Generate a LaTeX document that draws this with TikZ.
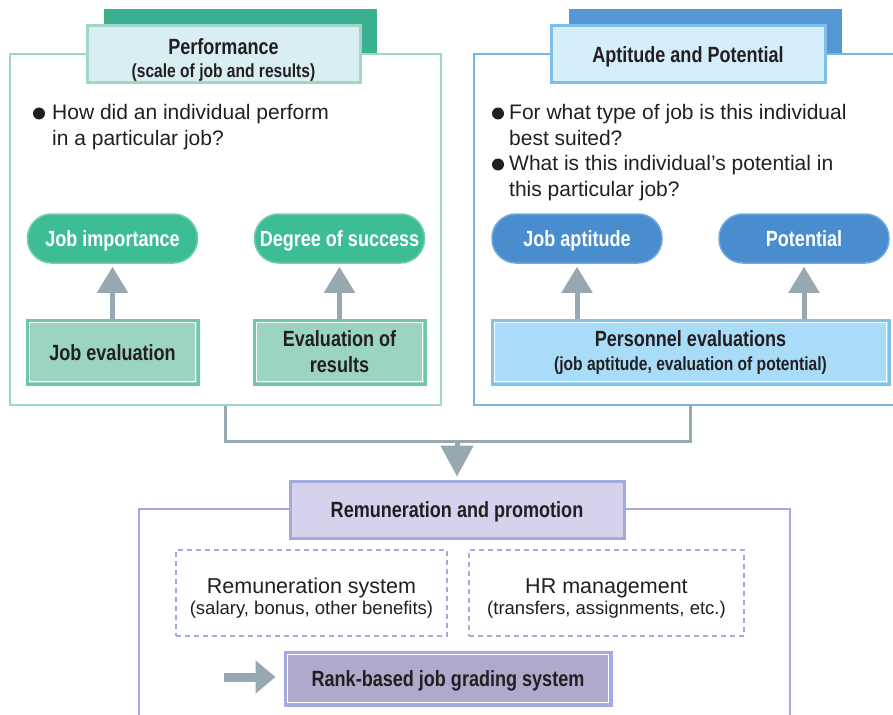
\documentclass[tikz,border=0pt]{standalone}
\usepackage{fontspec}
\setmainfont{Liberation Sans}
\newfontfamily\cnd{Liberation Sans}[FakeStretch=0.82]
\usetikzlibrary{arrows.meta}
\definecolor{tealfr}{HTML}{9ED7CA}
\definecolor{greentab}{HTML}{3AB08E}
\definecolor{hdrL}{HTML}{D8EEF0}
\definecolor{ovG}{HTML}{3DBD95}
\definecolor{ovGb}{HTML}{74CDB0}
\definecolor{boxG}{HTML}{9BD4BF}
\definecolor{boxGb}{HTML}{6FC7A9}
\definecolor{arrgray}{HTML}{97A8B1}
\definecolor{blueFr}{HTML}{76B6E6}
\definecolor{blueTab}{HTML}{5497D2}
\definecolor{hdrR}{HTML}{D5EEFB}
\definecolor{hdrRb}{HTML}{80BEEA}
\definecolor{ovB}{HTML}{4A8DCF}
\definecolor{ovBb}{HTML}{6FA8DD}
\definecolor{boxB}{HTML}{A8DCF8}
\definecolor{boxBb}{HTML}{80C2ED}
\definecolor{lav}{HTML}{A3AADD}
\definecolor{hdrP}{HTML}{D4D2EC}
\definecolor{rankc}{HTML}{B0A9CC}
\definecolor{txt}{HTML}{231F20}
\begin{document}
\begin{tikzpicture}[x=1pt,y=-1pt,
  frm/.style={draw=#1, line width=2.5pt, rectangle, inner sep=0pt},
  hdrbox/.style={rectangle, line width=3pt, inner sep=0pt, align=center, text=txt,
     font=\cnd\bfseries\fontsize{22}{24}\selectfont},
  oneline/.style={text height=16pt, text depth=0pt},
  oval/.style={rectangle, rounded corners=24pt, line width=1.5pt, minimum width=170pt,
     minimum height=49pt, inner sep=0pt, text=white, oneline, font=\cnd\bfseries\fontsize{22}{24}\selectfont},
  dbox/.style={rectangle, line width=3pt, inner sep=0pt, align=center, text=txt,
     font=\cnd\bfseries\fontsize{22}{26}\selectfont},
  innerw/.style={draw=white, line width=1.2pt},
  garrow/.style={draw=arrgray, line width=5pt, -{Triangle[width=30pt,length=26pt]}, shorten >=3pt},
  conn/.style={draw=arrgray, line width=3pt},
  bul/.style={anchor=base west, text=txt, font=\fontsize{21}{26}\selectfont, inner sep=0pt},
  dashbox/.style={rectangle, draw=lav, line width=2pt, dash pattern=on 5pt off 4pt,
     inner sep=0pt, align=center, text=txt}
]
\clip (0,0) rectangle (893,714);
\fill[white] (0,0) rectangle (893,714);

% ---------- left panel ----------
\fill[greentab] (104,9) rectangle (377,54);
\node[frm=tealfr, minimum width=431pt, minimum height=351pt] (lf) at (225.5,229.5) {};
\node[hdrbox, draw=tealfr, fill=hdrL, minimum width=273pt, minimum height=57pt] (lh) at (223.5,54.5)
  {\rule{0pt}{26pt}Performance\\[-1pt]{\fontsize{19}{22}\selectfont(scale of job and results)}};
\fill[txt] (39,113.5) circle (6);
\node[bul] (lb1) at (52,120) {How did an individual perform};
\node[bul] (lb2) at (52,146) {in a particular job?};

\node[oval, fill=ovG, draw=ovGb] (jimp) at (112.5,238.5) {Job importance};
\node[oval, fill=ovG, draw=ovGb] (dsucc) at (339.5,238.5) {Degree of success};
\node[dbox, oneline, fill=boxG, draw=boxGb, minimum width=171pt, minimum height=64pt] (jeval) at (112.5,352) {Job evaluation};
\node[dbox, fill=boxG, draw=boxGb, minimum width=171pt, minimum height=64pt] (reval) at (339.5,352) {Evaluation of\\results};
\draw[innerw] ([shift={(4,4)}]jeval.north west) rectangle ([shift={(-4,-4)}]jeval.south east);
\draw[innerw] ([shift={(4,4)}]reval.north west) rectangle ([shift={(-4,-4)}]reval.south east);
\draw[garrow] (jeval.north) -- (jimp.south);
\draw[garrow] (reval.north) -- (dsucc.south);

% ---------- right panel ----------
\fill[blueTab] (569,9) rectangle (842,54);
\node[frm=blueFr, minimum width=432pt, minimum height=351pt] (rf) at (690,229.5) {};
\node[hdrbox, oneline, draw=hdrRb, fill=hdrR, minimum width=274pt, minimum height=57pt] (rh) at (688,54.5)
  {Aptitude and Potential};
\fill[txt] (498,113.5) circle (6);
\fill[txt] (498,164.5) circle (6);
\node[bul] (rb1) at (509,120) {For what type of job is this individual};
\node[bul] (rb2) at (509,146) {best suited?};
\node[bul] (rb3) at (509,171) {What is this individual’s potential in};
\node[bul] (rb4) at (509,196) {this particular job?};

\node[oval, fill=ovB, draw=ovBb] (japt) at (577,238.5) {Job aptitude};
\node[oval, fill=ovB, draw=ovBb] (pot) at (804,238.5) {Potential};
\node[dbox, fill=boxB, draw=boxBb, minimum width=397pt, minimum height=64pt] (pers) at (690.5,352)
  {Personnel evaluations\\[-2pt]{\fontsize{19}{22}\selectfont(job aptitude, evaluation of potential)}};
\draw[innerw] ([shift={(4,4)}]pers.north west) rectangle ([shift={(-4,-4)}]pers.south east);
\draw[garrow] (japt |- pers.north) -- (japt.south);
\draw[garrow] (pot |- pers.north) -- (pot.south);

% ---------- bottom panel ----------
\node[frm=lav, minimum width=651pt, minimum height=230pt] (bf) at (464.5,624) {};
\node[hdrbox, oneline, draw=lav, fill=hdrP, minimum width=334pt, minimum height=57pt] (rem) at (457,509.5)
  {Remuneration and promotion};
\node[dashbox, minimum width=271pt, minimum height=86pt] (rsys) at (311.5,593)
  {{\fontsize{21.5}{22}\selectfont\rule{0pt}{25pt}Remuneration system}\\[2pt]{\fontsize{18.5}{20}\selectfont(salary, bonus, other benefits)}};
\node[dashbox, minimum width=275pt, minimum height=86pt] (hrm) at (606.5,593)
  {{\fontsize{21.5}{22}\selectfont\rule{0pt}{25pt}HR management}\\[2pt]{\fontsize{18.5}{20}\selectfont(transfers, assignments, etc.)}};
\node[dbox, oneline, fill=rankc, draw=lav, minimum width=326pt, minimum height=53pt] (rank) at (448,678.5)
  {Rank-based job grading system};
\draw[innerw] ([shift={(4,4)}]rank.north west) rectangle ([shift={(-4,-4)}]rank.south east);

% ---------- connectors ----------
\path (lf.south) ++(0,35) coordinate (lbend);
\coordinate (join) at (rem.north |- lbend);
\draw[conn] (lf.south) |- (lbend) -| (rf.south);
\draw[draw=arrgray, line width=5pt, -{Triangle[width=32pt,length=31pt]}, shorten >=3pt] (join) -- (rem.north);
\coordinate (rst) at (224,677);
\draw[draw=arrgray, line width=9pt, -{Triangle[width=32pt,length=20pt]}, shorten >=8pt] (rst) -- (rst -| rank.west);
\end{tikzpicture}
\end{document}
